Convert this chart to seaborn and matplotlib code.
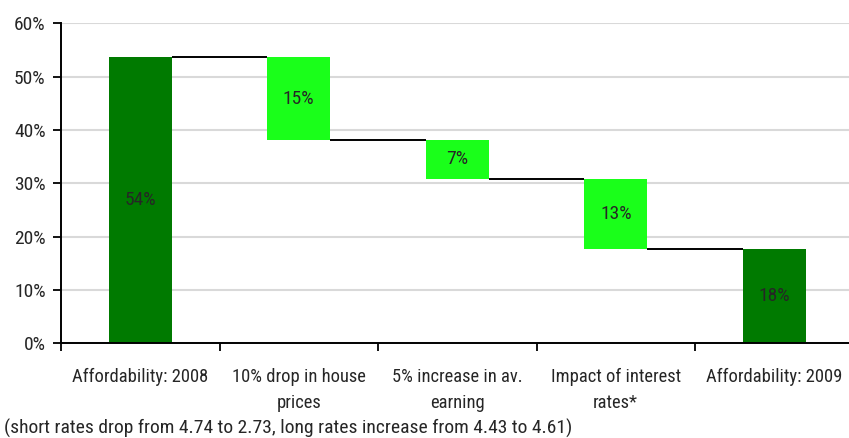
import matplotlib
matplotlib.use("Agg")
import matplotlib.pyplot as plt
import numpy as np
import pandas as pd
import seaborn as sns
from matplotlib.ticker import FixedLocator, FuncFormatter

# Affordability waterfall: start level, three effects, end level
categories = [
    "Affordability: 2008",
    "10% drop in house\nprices",
    "5% increase in av.\nearning",
    "Impact of interest\nrates*",
    "Affordability: 2009",
]
values = [53.6, 15.4, 7.3, 13.3, 17.6]
kinds = ["total", "decrease", "decrease", "decrease", "total"]
footnote = "(short rates drop from 4.74 to 2.73, long rates increase from 4.43 to 4.61)"
y_ticks = [0, 10, 20, 30, 40, 50, 60]

TOTAL_COLOR = "#007a00"
CHANGE_COLOR = "#1aff1a"
TEXT_COLOR = "#262626"
FS_TICK = 14
FS_CAT = 13.3
FS_BAR = 14
FS_NOTE = 14

# floating bars: totals sit on zero, decreases hang from the running level
bottoms, heights, colors, levels = [], [], [], []
level = 0.0
for v, k in zip(values, kinds):
    if k == "total":
        bottoms.append(0.0)
        heights.append(v)
        colors.append(TOTAL_COLOR)
        level = v
    else:
        bottoms.append(level - v)
        heights.append(v)
        colors.append(CHANGE_COLOR)
        level = level - v
    levels.append(level)

df = pd.DataFrame({"category": categories, "height": heights})

sns.set_theme(style="white")
plt.rcParams["font.family"] = ["Roboto Condensed", "Archivo Narrow", "DejaVu Sans"]

fig = plt.figure(figsize=(8.49, 4.38), dpi=100)
ax = fig.add_axes([61 / 849, 1 - 343.3 / 438, 792.5 / 849, 320 / 438])

sns.barplot(data=df, x="category", y="height", bottom=bottoms, width=0.4,
            color=TOTAL_COLOR, errorbar=None, ax=ax, linewidth=0, saturation=1)
for patch, c in zip(ax.patches, colors):
    patch.set_facecolor(c)
    patch.set_edgecolor("none")

# value labels in the middle of each bar
for i, (b, h) in enumerate(zip(bottoms, heights)):
    ax.text(i, b + h / 2, f"{h:.0f}%", ha="center", va="center",
            fontsize=FS_BAR, color=TEXT_COLOR)

# connectors between consecutive bars
half = 0.2
for i in range(len(values) - 1):
    ax.plot([i + half, i + 1 - half], [levels[i], levels[i]],
            color="black", lw=1.4, solid_capstyle="butt", zorder=3)

ax.set_xlim(-0.5, len(categories) - 0.5)
ax.set_ylim(0, 60)

ax.yaxis.set_major_locator(FixedLocator(y_ticks))
ax.yaxis.set_major_formatter(FuncFormatter(lambda v, p: f"{v:.0f}%"))
ax.tick_params(axis="y", which="major", direction="out", length=6, width=1.3,
               color="black", pad=5, labelsize=FS_TICK, labelcolor=TEXT_COLOR, left=True)

# tick marks at category boundaries, names centred between them
ax.set_xticks(np.arange(-0.5, len(categories), 1.0), labels=[""] * (len(categories) + 1))
ax.set_xticks(np.arange(len(categories)), labels=categories, minor=True,
              linespacing=1.55)
ax.tick_params(axis="x", which="major", direction="out", length=6, width=1.3,
               color="black", bottom=True)
ax.tick_params(axis="x", which="minor", length=0, pad=18, labelsize=FS_CAT,
               labelcolor=TEXT_COLOR)

ax.set_xlabel("")
ax.set_ylabel("")

ax.yaxis.grid(True, color="#d9d9d9", lw=1.5)
ax.xaxis.grid(False)
ax.set_axisbelow(True)
for side in ("top", "right"):
    ax.spines[side].set_visible(False)
for side in ("left", "bottom"):
    ax.spines[side].set_color("black")
    ax.spines[side].set_linewidth(1.4)
ax.spines["left"].set_zorder(4)
ax.spines["bottom"].set_zorder(4)

fig.text(4 / 849, 1 - 434 / 438, footnote, ha="left", va="baseline",
         fontsize=FS_NOTE, color=TEXT_COLOR)

fig.savefig("out.png", dpi=100)
